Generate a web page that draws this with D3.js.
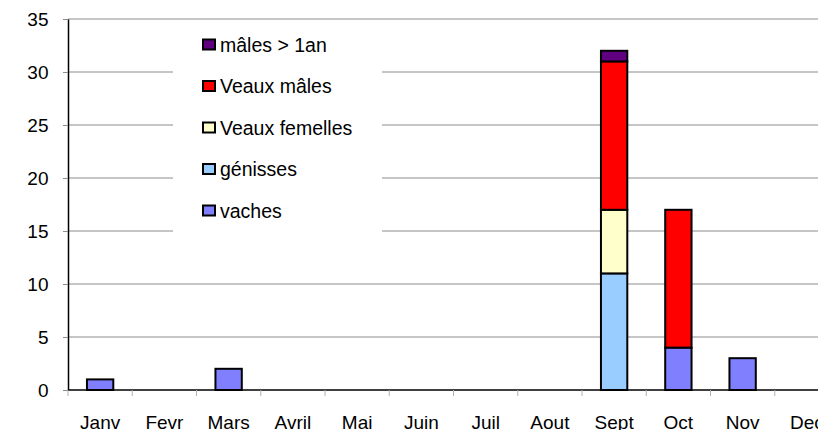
<!DOCTYPE html>
<html>
<head>
<meta charset="utf-8">
<script src="https://cdn.jsdelivr.net/npm/d3@7"></script>
<style>
  body { margin: 0; background: #fff; }
  svg { display: block; font-family: "Liberation Sans", Arial, sans-serif; }
</style>
</head>
<body>
<div id="viz"></div>
<script>
const months = ['Janv','Fevr','Mars','Avril','Mai','Juin','Juil','Aout','Sept','Oct','Nov','Dec'];
const seriesNames = ['vaches','génisses','Veaux femelles','Veaux mâles','mâles > 1an'];
const vaches        = [1,0,2,0,0,0,0,0,0,4,3,0];
const genisses      = [0,0,0,0,0,0,0,0,11,0,0,0];
const veauxFemelles = [0,0,0,0,0,0,0,0,6,0,0,0];
const veauxMales    = [0,0,0,0,0,0,0,0,14,13,0,0];
const malesPlus1an  = [0,0,0,0,0,0,0,0,1,0,0,0];
const yTicks = [0,5,10,15,20,25,30,35];
const colors = ['#8080ff','#99ccff','#ffffcc','#ff0000','#600080'];

const width = 818, height = 430;
const x0 = 68, step = 64.25, yTop = 19, yBot = 390;

const rows = months.map((m,i) => ({
  month: m,
  'vaches': vaches[i],
  'génisses': genisses[i],
  'Veaux femelles': veauxFemelles[i],
  'Veaux mâles': veauxMales[i],
  'mâles > 1an': malesPlus1an[i]
}));

const svg = d3.select('#viz').append('svg')
  .attr('width', width).attr('height', height);

const x = d3.scaleBand().domain(months)
  .range([x0, x0 + step*months.length])
  .paddingInner(0.59).paddingOuter(0.295);
const xCell = d3.scaleBand().domain(months).range([x0, x0 + step*months.length]);
const y = d3.scaleLinear().domain([0,35]).range([yBot, yTop]);

// gridlines
svg.append('g').selectAll('line').data(yTicks.filter(d => d > 0)).enter().append('line')
  .attr('x1', x0).attr('x2', width)
  .attr('y1', d => y(d)).attr('y2', d => y(d))
  .attr('stroke', '#8c8c8c').attr('stroke-width', 1);

// legend background (hides gridlines behind it)
const legend = svg.append('g');
legend.append('rect').attr('x', 173).attr('y', 30).attr('width', 209).attr('height', 207)
  .attr('fill', '#fff');

// bars
const stack = d3.stack().keys(seriesNames)(rows);
svg.append('g').selectAll('g').data(stack).enter().append('g')
  .attr('fill', (d,i) => colors[i])
  .selectAll('rect').data(d => d.filter(p => p[1] - p[0] > 0)).enter().append('rect')
  .attr('x', d => x(d.data.month))
  .attr('width', x.bandwidth())
  .attr('y', d => y(d[1]))
  .attr('height', d => y(d[0]) - y(d[1]))
  .attr('stroke', '#000').attr('stroke-width', 2);

// y axis
const yAxis = svg.append('g').attr('transform', `translate(${x0},0)`)
  .call(d3.axisLeft(y).tickValues(yTicks).tickSize(5).tickPadding(14.5).tickSizeOuter(0));
yAxis.select('.domain').attr('stroke', '#000').attr('stroke-width', 1.5);
yAxis.selectAll('.tick line').attr('stroke', '#8c8c8c');
yAxis.selectAll('text').attr('font-size', 19).attr('fill', '#000')
  .attr('font-family', '"Liberation Sans", Arial, sans-serif');

// x axis
const xAxis = svg.append('g').attr('transform', `translate(0,${yBot})`)
  .call(d3.axisBottom(xCell).tickSize(0).tickPadding(25.5).tickSizeOuter(0));
xAxis.select('.domain').remove();
svg.append('line').attr('x1', x0).attr('x2', width).attr('y1', yBot).attr('y2', yBot)
  .attr('stroke', '#000').attr('stroke-width', 1.5);
svg.append('g').selectAll('line').data(months).enter().append('line')
  .attr('x1', d => xCell(d)).attr('x2', d => xCell(d))
  .attr('y1', yBot).attr('y2', yBot + 6)
  .attr('stroke', '#b0b0b0');
xAxis.selectAll('text').attr('font-size', 19).attr('fill', '#000')
  .attr('font-family', '"Liberation Sans", Arial, sans-serif');

// legend items, top to bottom in reverse stack order
const legendItems = seriesNames.map((n,i) => ({name: n, color: colors[i]})).reverse();
const li = legend.selectAll('g.item').data(legendItems).enter().append('g')
  .attr('transform', (d,i) => `translate(203,${45 + i*41.5})`);
li.append('rect').attr('x', 0).attr('y', -5.5).attr('width', 12).attr('height', 10)
  .attr('fill', d => d.color).attr('stroke', '#000').attr('stroke-width', 2);
li.append('text').attr('x', 17).attr('dy', '0.35em')
  .attr('font-size', 19.5).text(d => d.name);
</script>
</body>
</html>
